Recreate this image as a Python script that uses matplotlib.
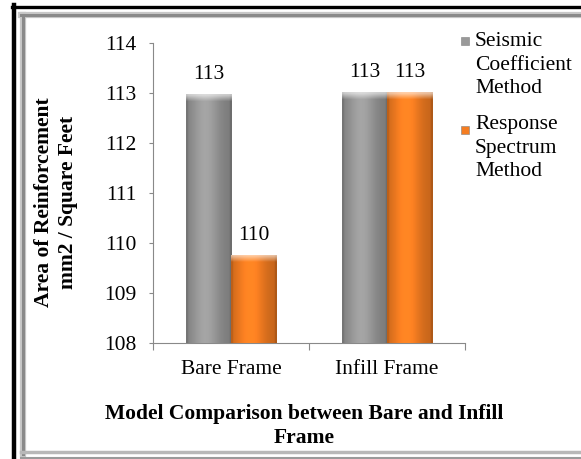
import numpy as np
import matplotlib
matplotlib.use('Agg')
import matplotlib.pyplot as plt
from matplotlib.lines import Line2D
from matplotlib.patches import Rectangle

# Data
categories = ['Bare Frame', 'Infill Frame']
series_names = ['Seismic\nCoefficient\nMethod', 'Response\nSpectrum\nMethod']
seismic_values = [112.97, 113.02]
response_values = [109.75, 113.02]
y_ticks = [108, 109, 110, 111, 112, 113, 114]

W, H = 581, 459
FS = 15.5
LS = 1.33
plt.rcParams['font.family'] = ['Liberation Serif', 'DejaVu Serif']
plt.rcParams['font.size'] = FS

fig = plt.figure(figsize=(W / 100, H / 100), dpi=100)


def fx(x):
    return x / W


def fy(y):
    return 1 - y / H


# Outer border (black) and inner bevelled frame (gray)
fig.add_artist(Line2D([fx(14), fx(14)], [fy(5), fy(459)], color='black', lw=3.2))
fig.add_artist(Line2D([fx(12), fx(581)], [fy(7), fy(7)], color='black', lw=2.4))
for lw, col in [(4.5, '#c8c8c8'), (2.2, '#8a8a8a')]:
    fig.add_artist(Line2D([fx(23), fx(23)], [fy(15), fy(454)], color=col, lw=lw))
    fig.add_artist(Line2D([fx(21), fx(581)], [fy(15), fy(15)], color=col, lw=lw))
fig.add_artist(Line2D([fx(21), fx(581)], [fy(452), fy(452)], color='#b8b8b8', lw=2.5))
fig.add_artist(Line2D([fx(21), fx(581)], [fy(458), fy(458)], color='#9a9a9a', lw=1.5))

ax = fig.add_axes([fx(153), fy(343), 312 / W, 300 / H])

x = np.arange(len(categories))
width = 0.29
offset = 0.145
colors = [(0.60, 0.60, 0.60), (0.96, 0.49, 0.13)]


def shade_bar(rect, color):
    x0, w = rect.get_x(), rect.get_width()
    y0, h = rect.get_y(), rect.get_height()
    t = np.linspace(0, 1, 80)
    prof = 0.80 + 0.28 * np.exp(-((t - 0.42) / 0.32) ** 2)
    prof[:4] *= 0.9
    prof[-4:] *= 0.88
    rows = 120
    img = np.ones((rows, len(t), 3)) * np.array(color)[None, None, :] * prof[None, :, None]
    # top bevel highlight, about 7 px tall
    bevel = max(2, int(rows * 0.14 / h))
    for r in range(bevel):
        k = 0.6 * (1 - r / bevel)
        img[r] = img[r] + (1 - img[r]) * k
    img = np.clip(img, 0, 1)
    ax.imshow(img, extent=(x0, x0 + w, y0, y0 + h), aspect='auto', zorder=3,
              interpolation='bilinear')


bars1 = ax.bar(x - offset, np.array(seismic_values) - 108, width, bottom=108,
               color=colors[0], zorder=2)
bars2 = ax.bar(x + offset, np.array(response_values) - 108, width, bottom=108,
               color=colors[1], zorder=2)
for bars, col, vals in [(bars1, colors[0], seismic_values), (bars2, colors[1], response_values)]:
    for rect, v in zip(bars, vals):
        shade_bar(rect, col)
        ax.annotate(f'{v:.0f}', (rect.get_x() + rect.get_width() / 2, v),
                    xytext=(0, 11), textcoords='offset points',
                    ha='center', va='baseline', fontsize=FS)

ax.set_xlim(-0.5, len(categories) - 0.5)
ax.set_ylim(108, 114)
ax.set_yticks(y_ticks)
ax.set_xticks(np.arange(len(categories) + 1) - 0.5)
ax.set_xticklabels([])
ax.set_xticks(x, minor=True)
ax.set_xticklabels(categories, minor=True)
ax.tick_params(axis='x', which='minor', length=0, pad=12, labelsize=FS)
ax.tick_params(axis='x', which='major', length=5, color='#898989', width=0.8)
ax.tick_params(axis='y', length=3, color='#898989', width=0.8, pad=9, labelsize=FS)
for s in ['top', 'right']:
    ax.spines[s].set_visible(False)
for s in ['left', 'bottom']:
    ax.spines[s].set_color('#898989')
    ax.spines[s].set_linewidth(0.8)

# Axis titles
fig.text(fx(56), fy(202), 'Area of Reinforcement\nmm2 / Square Feet', rotation=90,
         ha='center', va='center', multialignment='center', fontweight='bold',
         fontsize=FS, linespacing=LS)
fig.text(fx(304), fy(426), 'Model Comparison between Bare and Infill\nFrame',
         ha='center', va='center', multialignment='center', fontweight='bold',
         fontsize=FS, linespacing=LS)

# Legend
legend_tops = [32, 115]
marker_bottoms = [45, 134]
for name, col, top, mb in zip(series_names, colors, legend_tops, marker_bottoms):
    fig.text(fx(475), fy(top), name, ha='left', va='top', fontsize=FS, linespacing=LS,
             multialignment='left')
    fig.add_artist(Rectangle((fx(461), fy(mb)), 8 / W, 8 / H, transform=fig.transFigure,
                             facecolor=col, edgecolor=(0.5, 0.5, 0.5), lw=0.4))

fig.savefig('out.png', dpi=100)
